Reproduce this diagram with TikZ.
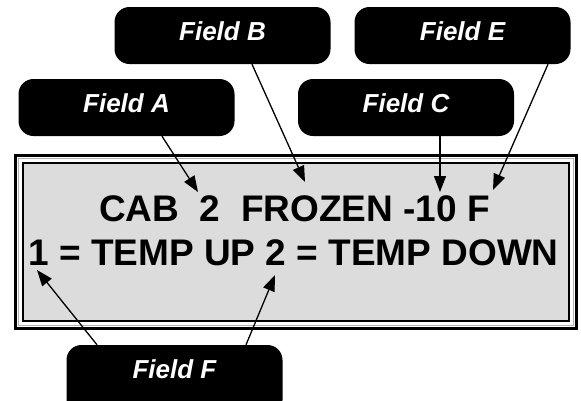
\documentclass[tikz,border=0pt]{standalone}
\usepackage{fontspec}
\setmainfont{Liberation Sans}
\usetikzlibrary{arrows.meta}
\definecolor{lcdgray}{HTML}{DCDCDC}
\begin{document}
\begin{tikzpicture}[x=1pt,y=-1pt,
  fieldbox/.style={fill=black, rounded corners=15pt, inner sep=0pt,
    minimum width=216pt, minimum height=57pt, text=white,
    font=\fontsize{26}{26}\selectfont\bfseries\itshape,
    text height=18pt, text depth=9pt},
  lcdtext/.style={anchor=base, inner sep=0pt,
    font=\fontsize{37}{37}\selectfont\bfseries},
  ptr/.style={line width=1.3pt, -{Triangle[length=16pt,width=12pt]}}]
\useasboundingbox (0,0) rectangle (581,400);
\clip (0,0) rectangle (581,400);

% LCD frame
\node[draw, line width=2pt, fill=lcdgray, minimum width=545.5pt,
      minimum height=157.5pt, inner sep=0pt] (lcd) at (295.75,241.75) {};
\draw[line width=3pt] ([shift={(-7,-7)}]lcd.north west) rectangle ([shift={(7,7)}]lcd.south east);
\draw[line width=1pt, black!30] ([shift={(-3.5,-3.5)}]lcd.north west) rectangle ([shift={(3.5,3.5)}]lcd.south east);

\node[lcdtext] (l1) at (294.5,221) {CAB\ \ 2\ \ FROZEN -10 F};
\node[lcdtext] (l2) at (293.5,265) {1 = TEMP UP 2 = TEMP DOWN};

% callout boxes
\node[fieldbox] (fb) at (222.5,35.5) {Field B};
\node[fieldbox] (fe) at (462.5,35.5) {Field E};
\node[fieldbox] (fa) at (126.5,107.5) {Field A};
\node[fieldbox] (fc) at (406,107.5) {Field C};
\node[fieldbox, minimum height=70pt, text depth=22pt] (ff) at (174.5,380) {Field F};

% arrow tips
\coordinate (ta) at (198,192);
\coordinate (tb) at (305,182);
\coordinate (tc) at (440,192);
\coordinate (te) at (493,190);
\coordinate (tf1) at (37,270);
\coordinate (tf2) at (275,275);

\draw[ptr] ([xshift=35.5pt]fa.south) -- (ta);
\draw[ptr] ([xshift=29.5pt]fb.south) -- (tb);
\draw[ptr] ([xshift=34pt]fc.south) -- (tc);
\draw[ptr] ([xshift=85.5pt]fe.south) -- (te);
\draw[ptr] ([xshift=-77.5pt]ff.north) -- (tf1);
\draw[ptr] ([xshift=71.5pt]ff.north) -- (tf2);
\end{tikzpicture}
\end{document}
